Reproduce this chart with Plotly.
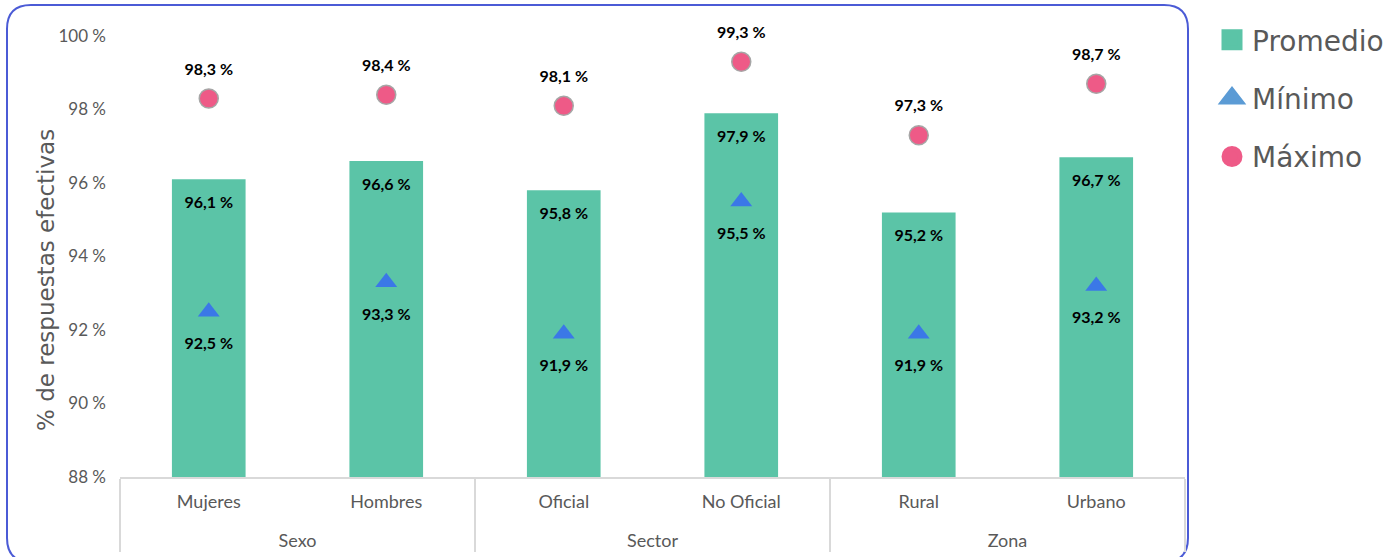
import plotly.graph_objects as go

groups = ["Sexo", "Sexo", "Sector", "Sector", "Zona", "Zona"]
categories = ["Mujeres", "Hombres", "Oficial", "No Oficial", "Rural", "Urbano"]
promedio = [96.1, 96.6, 95.8, 97.9, 95.2, 96.7]
minimo = [92.5, 93.3, 91.9, 95.5, 91.9, 93.2]
maximo = [98.3, 98.4, 98.1, 99.3, 97.3, 98.7]

# extra spacer line under category names to separate the two label rows
cat_labels = [c + "<br><span style='font-size:13px'> </span>" for c in categories]
x = [groups, cat_labels]
label_font = dict(family="Lato", size=16, color="#000000")
clear = "rgba(0,0,0,0)"
GREEN, BLUE, LBLUE, PINK = "#5BC4A7", "#3B78E7", "#5B9BD5", "#EE5A87"

fig = go.Figure()
fig.add_trace(go.Bar(
    x=x, y=promedio, name="Promedio", width=0.415,
    marker=dict(color=GREEN, line=dict(width=0)),
    texttemplate="<span style='font-size:5px'> </span><br><b>%{y:.1f} %</b>",
    textposition="inside", insidetextanchor="end", textfont=label_font, textangle=0,
    legendgroup="a", showlegend=False, hoverinfo="skip",
))
# Mínimo markers
fig.add_trace(go.Scatter(
    x=x, y=minimo, name="Mínimo", mode="markers",
    marker=dict(symbol="triangle-up", size=19, color=BLUE),
    legendgroup="b", showlegend=False, cliponaxis=False,
))
# Mínimo labels (transparent wider marker only sets the label offset)
fig.add_trace(go.Scatter(
    x=x, y=minimo, name="Mínimo", mode="markers+text",
    marker=dict(size=39, color=clear), texttemplate="<b>%{y:.1f} %</b>",
    textposition="bottom center", textfont=label_font, legendgroup="b",
    showlegend=False, cliponaxis=False, hoverinfo="skip",
))
# Máximo markers
fig.add_trace(go.Scatter(
    x=x, y=maximo, name="Máximo", mode="markers",
    marker=dict(symbol="circle", size=19, color=PINK, line=dict(color="#A6A6A6", width=1.5)),
    cliponaxis=False, legendgroup="c", showlegend=False,
))
fig.add_trace(go.Scatter(
    x=x, y=maximo, name="Máximo", mode="markers+text",
    marker=dict(size=30, color=clear), texttemplate="<b>%{y:.1f} %</b>",
    textposition="top center", textfont=label_font, legendgroup="c",
    showlegend=False, cliponaxis=False, hoverinfo="skip",
))

# legend entries (larger symbols, as in the original)
for name, sym, col, grp, rank in [("Promedio", "square", GREEN, "a", 1),
                                  ("Mínimo", "triangle-up", LBLUE, "b", 2),
                                  ("Máximo", "circle", PINK, "c", 3)]:
    fig.add_trace(go.Scatter(
        x=[[None], [None]], y=[None], name=name, mode="markers",
        marker=dict(symbol=sym, size=16, color=col, line=dict(color=col, width=5)),
        legendgroup=grp, legendrank=rank, showlegend=True,
    ))

# rounded border (paper coordinates)
L, R, T, B = 120, 1185, 36, 477
W, H = R - L, B - T
def px(v): return (v - L) / W
def py(v): return (B - v) / H
x0, x1, y0, y1 = px(7), px(1188), py(562), py(5)
rx, ry = 24 / W, 24 / H
path = (f"M {x0+rx},{y1} L {x1-rx},{y1} Q {x1},{y1} {x1},{y1-ry} "
        f"L {x1},{y0+ry} Q {x1},{y0} {x1-rx},{y0} L {x0+rx},{y0} "
        f"Q {x0},{y0} {x0},{y0+ry} L {x0},{y1-ry} Q {x0},{y1} {x0+rx},{y1} Z")
fig.add_shape(type="path", path=path, xref="paper", yref="paper",
              line=dict(color="#4B5BD6", width=2), layer="below")

# y-axis title placed like the original (slightly below the axis centre)
fig.add_annotation(text="% de respuestas efectivas", textangle=-90,
                   xref="paper", yref="paper", x=px(46), y=py(280),
                   xanchor="center", yanchor="middle", showarrow=False,
                   font=dict(family="DejaVu Sans", size=23, color="#595959"))

fig.update_layout(
    width=1400, height=557,
    margin=dict(l=L, r=1400 - R, t=T, b=557 - B, autoexpand=False),
    paper_bgcolor="white", plot_bgcolor="white",
    separators=", ",
    barmode="overlay",
    showlegend=True,
    legend=dict(xref="container", yref="container", x=1212 / 1400, y=1 - 15 / 557,
                xanchor="left", yanchor="top",
                font=dict(family="DejaVu Sans", size=28, color="#595959"),
                tracegroupgap=19, itemsizing="trace", bgcolor="rgba(0,0,0,0)"),
    font=dict(family="Lato", color="#595959"),
)
fig.update_yaxes(
    range=[88, 100], dtick=2, ticksuffix=" %", showgrid=False, zeroline=False,
    showline=False, tickfont=dict(family="Lato", size=17, color="#595959"),
    ticks="", ticklabelstandoff=13, automargin=False,
)
fig.update_xaxes(
    type="multicategory", showgrid=False, showline=True, linecolor="#D9D9D9", linewidth=1.5,
    showdividers=True, dividercolor="#D9D9D9", dividerwidth=1.5, automargin=False,
    tickfont=dict(family="Lato", size=18, color="#595959"), ticks="", ticklabelstandoff=8,
)

fig.write_html("out.html", config={"displayModeBar": False},
               post_script="document.body.style.margin='0';")
